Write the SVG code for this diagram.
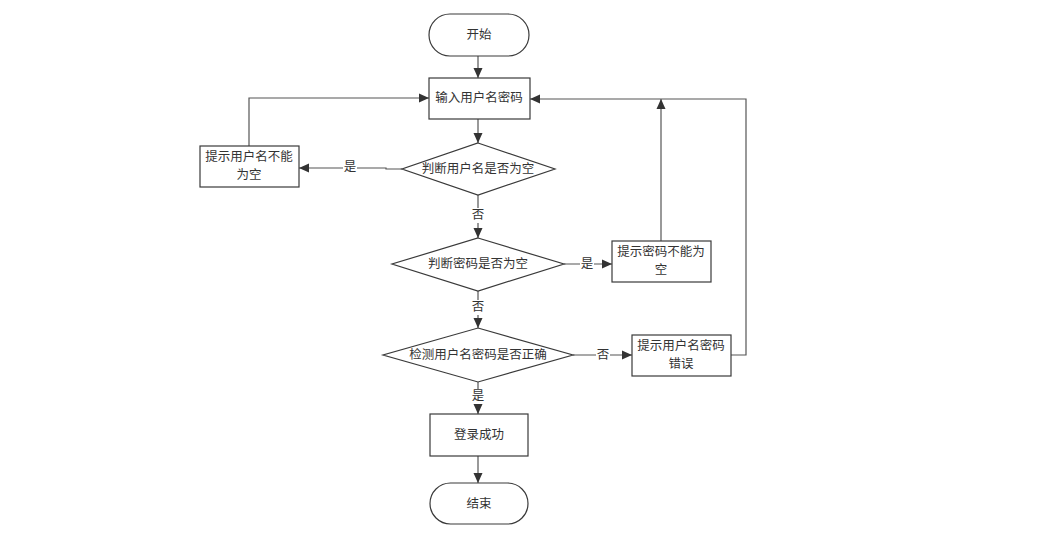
<svg xmlns="http://www.w3.org/2000/svg" width="1051" height="540" viewBox="0 0 1051 540">
<style>
.n{fill:#fff;stroke:#3a3a3a;stroke-width:1.2}
.t{font-family:"Liberation Serif","Noto Sans CJK SC",serif;font-size:12.5px;fill:#333;text-anchor:middle;dominant-baseline:central}
.c{fill:none;stroke:#555;stroke-width:1.2}
.lb{fill:#fff}
</style>
<defs>
<marker id="ah" viewBox="0 0 10 10" refX="10" refY="5" markerWidth="10" markerHeight="10" markerUnits="userSpaceOnUse" orient="auto">
<path d="M0,0.5 L10,5 L0,9.5 Z" fill="#333"/>
</marker>
</defs>
<rect width="1051" height="540" fill="#fff"/>
<g id="connectors">
<path class="c" d="M478 56 V78" marker-end="url(#ah)"/>
<path class="c" d="M478 119 V143" marker-end="url(#ah)"/>
<path class="c" d="M402 169 H386 V168 H299" marker-end="url(#ah)"/>
<path class="c" d="M249 146 V98 H429" marker-end="url(#ah)"/>
<path class="c" d="M478 195 V238" marker-end="url(#ah)"/>
<path class="c" d="M564 264 H612" marker-end="url(#ah)"/>
<path class="c" d="M661 241 V99" marker-end="url(#ah)"/>
<path class="c" d="M478 291 V328" marker-end="url(#ah)"/>
<path class="c" d="M573 355 H632" marker-end="url(#ah)"/>
<path class="c" d="M731 355 H746 V99 H530" marker-end="url(#ah)"/>
<path class="c" d="M478 382 V414" marker-end="url(#ah)"/>
<path class="c" d="M478 456 V483" marker-end="url(#ah)"/>
<rect class="lb" x="343" y="160" width="14" height="15"/>
<text class="t" x="350" y="167">是</text>
<rect class="lb" x="471" y="208" width="14" height="15"/>
<text class="t" x="478" y="215">否</text>
<rect class="lb" x="580" y="257" width="14" height="15"/>
<text class="t" x="587" y="264">是</text>
<rect class="lb" x="471" y="300" width="14" height="15"/>
<text class="t" x="478" y="307">否</text>
<rect class="lb" x="596" y="348" width="14" height="15"/>
<text class="t" x="603" y="355">否</text>
<rect class="lb" x="471" y="389" width="14" height="15"/>
<text class="t" x="478" y="396">是</text>
</g>
<g id="start">
<rect class="n" x="429" y="14" width="100" height="42" rx="21"/>
<text class="t" x="479" y="35">开始</text>
</g>
<g id="input">
<rect class="n" x="429" y="78" width="101" height="41"/>
<text class="t" x="479" y="98">输入用户名密码</text>
</g>
<g id="check-user">
<polygon class="n" points="478,143 555,169 478,195 402,169"/>
<text class="t" x="478" y="169">判断用户名是否为空</text>
</g>
<g id="user-empty">
<rect class="n" x="200" y="146" width="99" height="41"/>
<text class="t" x="249" y="157">提示用户名不能</text>
<text class="t" x="249" y="175">为空</text>
</g>
<g id="check-pwd">
<polygon class="n" points="478,238 564,264 478,291 392,264"/>
<text class="t" x="478" y="264">判断密码是否为空</text>
</g>
<g id="pwd-empty">
<rect class="n" x="612" y="241" width="99" height="41"/>
<text class="t" x="661" y="252">提示密码不能为</text>
<text class="t" x="661" y="270">空</text>
</g>
<g id="check-valid">
<polygon class="n" points="478,328 573,355 478,382 383,355"/>
<text class="t" x="478" y="355">检测用户名密码是否正确</text>
</g>
<g id="wrong">
<rect class="n" x="632" y="335" width="99" height="41"/>
<text class="t" x="681" y="346">提示用户名密码</text>
<text class="t" x="681" y="364">错误</text>
</g>
<g id="success">
<rect class="n" x="430" y="414" width="98" height="42"/>
<text class="t" x="479" y="435">登录成功</text>
</g>
<g id="end">
<rect class="n" x="430" y="483" width="98" height="41" rx="20.5"/>
<text class="t" x="479" y="503.5">结束</text>
</g>
</svg>
